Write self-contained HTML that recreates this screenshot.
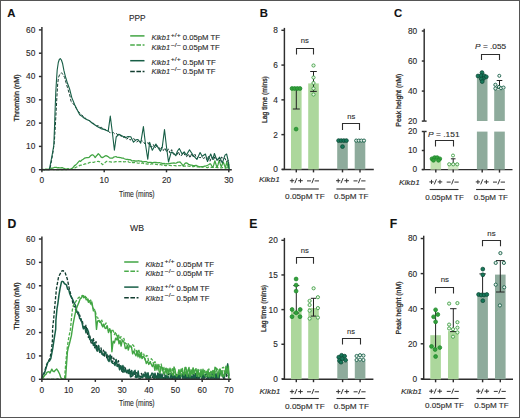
<!DOCTYPE html>
<html><head><meta charset="utf-8"><style>
html,body{margin:0;padding:0;background:#fff;}
svg{display:block;font-family:"Liberation Sans", sans-serif;}
text{stroke:#2a2a2a;stroke-width:0.12px;}
.t{stroke-width:0.3px;}
</style></head><body>
<svg width="520" height="418" viewBox="0 0 520 418">
<rect x="0" y="0" width="520" height="418" fill="#fff"/>
<g>
<polyline points="41.90,169.49 43.12,169.70 44.33,169.57 45.55,169.70 46.76,169.70 47.98,169.29 49.20,169.24 50.41,169.70 51.63,169.41 52.84,169.38 54.06,169.70 55.28,169.54 56.49,169.70 57.71,169.53 58.92,169.64 60.14,169.24 61.36,169.62 62.57,169.70 63.79,169.50 65.00,169.67 66.22,169.60 67.44,169.10 68.65,169.64 69.87,169.50 71.08,169.25 72.30,169.02 73.90,168.74 75.50,167.48 76.93,166.91 78.37,166.27 79.80,165.37 81.08,165.22 82.37,164.48 83.65,164.49 84.93,163.89 86.22,163.97 87.50,163.60 89.00,162.68 90.50,162.41 92.00,162.17 93.60,162.44 95.20,161.68 96.80,161.50 98.30,161.44 99.80,161.81 101.15,163.21 102.50,164.68 103.93,163.60 105.37,162.33 106.80,161.32 108.03,161.35 109.27,161.74 110.50,161.89 111.83,162.19 113.17,162.14 114.50,161.93 116.00,161.59 117.33,161.74 118.67,161.76 120.00,161.56 121.30,161.72 122.60,161.37 123.90,161.92 125.20,161.76 126.50,161.58 127.80,161.45 129.04,162.24 130.28,162.51 131.52,161.95 132.76,162.68 134.00,162.53 135.20,162.40 136.40,162.60 137.60,163.06 138.80,163.22 140.00,162.64 141.25,163.22 142.50,162.89 143.75,163.55 145.00,163.36 146.25,163.93 147.50,164.13 148.75,163.88 150.00,164.40 151.25,163.97 152.50,163.91 153.75,164.45 155.00,164.13 156.25,164.38 157.50,164.68 158.75,164.96 160.00,164.72 161.25,164.68 162.50,165.39 163.75,165.00 165.00,165.57 166.25,165.57 167.50,165.20 168.75,165.32 170.00,165.42 171.25,165.54 172.50,165.53 173.75,165.52 175.00,165.60 176.25,165.88 177.50,165.56 178.75,165.52 180.00,165.78 181.25,165.49 182.50,165.64 183.75,166.28 185.00,166.02 186.25,166.14 187.50,165.81 188.75,166.23 190.00,166.46 191.25,166.08 192.50,166.62 193.75,166.69 195.00,166.30 196.25,166.81 197.50,166.75 198.75,166.98 200.00,166.78 201.25,167.13 202.50,167.22 203.75,166.71 205.00,166.80 206.25,167.35 207.50,167.65 208.75,167.14 210.00,167.37 211.25,167.51 212.50,167.33 213.75,167.40 215.00,167.40 216.25,167.48 217.50,167.70 218.75,167.50 220.00,167.60 221.24,167.99 222.49,167.46 223.73,167.97 224.97,168.17 226.21,167.91 227.46,167.91 228.70,168.44" fill="none" stroke="#4aab4a" stroke-width="1.2" stroke-linejoin="round" stroke-dasharray="3.2,1.6"/>
<polyline points="41.90,169.49 43.02,169.32 44.14,169.50 45.26,169.24 46.38,169.11 47.50,169.32 48.50,169.47 49.50,169.11 50.50,168.81 51.50,168.15 52.50,168.18 53.50,167.75 54.50,167.44 55.50,167.31 56.50,167.32 57.50,167.82 58.50,167.66 59.67,167.81 60.83,167.97 62.00,167.65 63.00,167.97 64.00,168.45 65.00,168.76 66.00,169.08 67.00,169.20 68.00,168.67 69.00,169.18 70.00,169.34 71.25,168.70 72.50,167.94 73.50,167.05 74.50,165.60 75.50,165.15 76.80,163.83 78.10,162.30 79.40,160.84 80.60,161.33 81.90,160.02 83.20,159.24 84.50,158.18 85.65,157.81 86.80,157.63 87.95,157.68 89.10,157.44 90.13,156.23 91.17,155.34 92.20,154.75 93.20,155.13 94.20,156.14 95.20,157.60 96.23,156.06 97.27,154.99 98.30,153.68 99.60,154.97 100.90,156.90 102.20,157.66 103.47,157.06 104.73,156.13 106.00,155.71 107.15,156.10 108.30,156.83 109.45,157.82 110.60,158.16 111.68,158.05 112.76,158.02 113.84,157.08 114.92,156.75 116.00,156.58 117.00,157.25 118.00,157.36 119.00,157.29 120.00,157.60 121.00,157.71 122.00,158.17 123.16,158.03 124.32,158.76 125.48,159.12 126.64,159.36 127.80,159.39 128.85,159.92 129.90,159.51 130.95,160.08 132.00,160.97 133.00,160.87 134.00,160.63 135.00,161.10 136.00,160.90 137.00,161.10 138.00,160.73 139.00,160.80 140.00,161.16 141.00,161.06 142.00,161.41 143.00,162.02 144.00,161.67 145.00,161.54 146.00,161.70 147.00,161.94 148.00,162.56 149.00,162.36 150.00,162.43 151.00,162.30 152.00,163.04 153.00,162.61 154.00,162.47 155.00,162.37 156.00,162.39 157.00,162.51 158.00,162.94 159.00,162.66 160.00,162.72 161.00,163.22 162.00,163.17 163.00,163.91 164.00,163.35 165.00,163.82 166.00,163.96 167.00,163.61 168.00,164.02 169.00,163.55 170.00,163.31 171.00,163.39 172.00,163.03 173.00,163.19 174.00,162.90 175.00,163.26 176.00,163.06 177.00,162.65 178.00,162.13 179.00,162.15 180.00,161.99 181.07,163.13 182.13,164.32 183.20,166.00 184.23,164.35 185.27,163.21 186.30,162.84 187.37,163.25 188.43,164.29 189.50,164.52 190.57,165.10 191.63,165.09 192.70,165.38 193.77,165.53 194.83,165.51 195.90,165.37 196.96,165.67 198.02,166.40 199.08,166.62 200.14,166.84 201.20,166.57 202.26,166.63 203.32,166.54 204.38,166.21 205.44,166.15 206.50,165.72 207.55,165.30 208.60,164.80 209.65,163.94 210.70,163.94 211.75,166.07 212.80,167.46 213.85,164.48 214.90,160.77 215.95,164.23 217.00,167.44 218.10,164.42 219.20,160.10 220.25,163.92 221.30,166.83 222.35,164.25 223.40,162.23 224.40,165.26 225.40,167.86 226.80,161.70 228.00,167.34 228.90,164.77 229.30,169.30" fill="none" stroke="#41a543" stroke-width="1.25" stroke-linejoin="round"/>
<polyline points="41.90,169.54 43.22,169.51 44.53,169.70 45.85,169.58 47.17,169.55 48.48,169.66 49.80,169.70 51.50,160.86 53.00,152.07 54.30,142.81 55.40,124.94 56.20,109.95 57.00,95.05 57.70,83.82 58.50,77.57 59.60,74.68 61.50,72.71 63.00,74.65 64.60,77.31 66.05,82.75 67.50,87.69 68.95,92.54 70.40,97.63 71.00,101.46 71.80,102.05 73.15,103.61 74.50,105.38 77.00,109.62 78.50,111.47 80.00,113.49 81.50,115.06 83.00,115.97 84.50,117.61 86.00,118.56 87.33,119.96 88.67,120.27 90.00,121.18 91.67,122.80 93.33,123.11 95.00,124.95 96.67,125.93 98.33,125.70 100.00,127.51 101.67,127.34 103.33,129.50 105.00,129.25 106.67,130.65 108.33,130.97 110.00,132.90 111.67,132.49 113.33,132.57 115.00,134.17 116.67,133.54 118.33,135.73 120.00,134.73 121.67,137.12 123.33,137.29 125.00,136.39 126.67,139.16 128.33,137.79 130.00,140.21 131.67,138.66 133.33,138.64 135.00,139.55 136.67,142.09 138.33,140.68 140.00,142.22 141.67,140.64 143.33,141.52 145.00,144.00 146.67,143.09 148.33,142.78 150.00,146.55 151.67,146.98 153.33,144.49 155.00,148.13 156.67,145.93 158.33,146.10 160.00,150.19 161.67,147.23 163.33,150.54 165.00,147.95 166.67,152.13 168.33,148.87 170.00,153.09 171.67,149.68 173.33,154.18 175.00,154.26 176.67,155.18 178.33,151.60 180.00,155.84 181.67,155.47 183.33,152.19 185.00,155.37 186.67,156.77 188.33,153.78 190.00,157.91 191.67,153.64 193.33,156.92 195.00,154.27 196.67,158.84 198.33,156.48 200.00,158.06 201.67,156.53 203.33,158.44 205.00,157.51 206.67,159.52 208.33,156.13 210.00,161.19 211.67,157.01 213.33,160.41 215.00,156.36 216.67,159.56 218.33,158.96 220.00,161.21 221.67,157.09 223.33,158.57 225.00,158.20 226.70,161.97 228.40,159.99 229.00,166.77" fill="none" stroke="#123d30" stroke-width="1.0" stroke-linejoin="round" stroke-dasharray="3.2,1.6"/>
<polyline points="41.90,169.70 49.30,169.70 51.00,161.00 52.50,153.00 53.80,145.00 54.60,125.00 55.10,110.00 55.80,92.00 56.50,80.00 57.20,70.00 58.30,62.50 59.30,59.50 60.30,58.60 61.40,60.00 62.50,63.20 63.90,70.40 65.30,76.10 67.50,83.30 69.60,89.00 71.80,97.60 74.70,104.80 77.50,110.50 79.70,114.80 82.00,116.40 84.00,118.00 86.50,119.40 89.50,120.70 92.00,123.00 95.00,125.00 98.10,127.00 101.00,128.60 104.00,129.40 106.70,130.40 108.20,131.20 110.30,116.10 112.60,134.50 114.40,150.20 116.20,137.00 118.90,134.20 121.80,135.80 125.40,137.70 128.00,136.50 130.80,136.80 133.50,142.20 136.00,139.80 138.00,139.50 140.70,143.10 143.40,126.60 145.60,145.00 147.80,159.30 149.60,142.20 152.30,150.30 155.90,144.00 158.50,148.50 160.40,151.20 162.20,147.60 164.50,129.60 166.50,147.00 168.50,162.00 171.20,152.10 173.50,153.00 175.70,155.70 177.50,151.00 179.30,148.50 182.10,154.00 184.20,151.90 186.30,155.10 189.50,149.80 192.70,154.60 194.80,157.20 196.90,159.40 200.10,152.50 202.20,156.20 205.40,154.00 207.50,161.50 210.70,154.00 212.80,159.30 214.40,153.50 217.00,160.40 219.70,157.20 222.30,163.00 225.00,155.10 226.60,154.00 228.10,160.40 228.70,166.70 229.00,169.70" fill="none" stroke="#175e46" stroke-width="1.1" stroke-linejoin="round"/>
</g>
<g>
<polyline points="41.90,378.92 43.00,377.45 44.50,372.82 46.00,366.18 48.00,361.88 50.00,358.17 51.50,349.72 52.50,339.65 52.60,328.20 53.60,319.55 55.10,302.57 56.50,288.29 58.60,276.77 60.80,272.65 61.90,270.84 63.00,270.58 65.10,272.62 66.20,275.86 67.30,279.03 69.40,289.33 71.60,297.62 73.70,306.38 74.85,306.88 76.00,311.48 77.20,310.74 78.40,316.01 79.70,315.07 81.00,320.77 82.20,320.14 83.40,327.49 84.70,329.24 86.00,325.31 87.20,332.62 88.40,337.39 89.70,334.78 91.00,342.49 92.20,344.27 93.40,338.56 94.70,347.73 96.00,341.69 97.25,351.01 98.50,345.86 99.75,353.30 101.00,347.98 102.25,354.37 103.50,350.13 104.67,356.05 105.83,352.27 107.00,359.37 108.60,355.02 110.20,359.33 111.40,354.98 112.60,362.15 113.80,358.06 115.00,364.59 116.15,359.12 117.30,366.05 118.45,360.69 119.60,368.61 120.70,365.00 121.80,370.46 122.90,372.18 124.00,366.13 125.35,368.42 126.70,372.88 128.05,369.54 129.40,374.11 130.55,370.19 131.70,376.62 132.85,373.41 134.00,372.62 135.30,377.16 136.60,372.65 137.90,375.84 139.20,375.95 140.36,376.82 141.52,373.33 142.68,376.95 143.84,373.72 145.00,372.13 146.25,379.30 147.50,372.97 148.75,379.30 150.00,375.97 151.11,378.71 152.22,378.28 153.33,374.97 154.44,379.30 155.56,373.79 156.67,379.30 157.78,373.24 158.89,379.30 160.00,373.61 161.11,376.53 162.22,379.30 163.33,379.30 164.44,373.22 165.56,378.30 166.67,377.12 167.78,378.42 168.89,373.52 170.00,373.71 171.11,379.30 172.22,379.30 173.33,373.86 174.44,379.30 175.56,379.30 176.67,373.79 177.78,377.59 178.89,375.79 180.00,379.30 181.11,373.55 182.22,375.06 183.33,373.78 184.44,379.11 185.56,373.27 186.67,378.73 187.78,374.69 188.89,379.30 190.00,373.42 191.11,378.12 192.22,375.27 193.33,374.47 194.44,379.30 195.56,373.53 196.67,379.30 197.78,377.36 198.89,378.16 200.00,378.19 201.11,374.26 202.22,375.24 203.33,379.30 204.44,374.07 205.56,379.30 206.67,378.90 207.78,376.26 208.89,379.20 210.00,379.30 211.11,372.59 212.22,372.87 213.33,373.30 214.44,379.30 215.56,374.91 216.67,379.30 217.78,375.97 218.89,379.30 220.00,372.82 221.21,374.05 222.43,373.37 223.64,378.23 224.86,378.14 226.07,377.49 227.29,371.09 228.50,377.22 229.00,376.67" fill="none" stroke="#123d30" stroke-width="1.35" stroke-linejoin="round" stroke-dasharray="3.2,1.6"/>
<polyline points="41.90,378.83 43.00,374.57 44.90,371.77 46.50,366.45 47.80,362.24 49.50,361.00 50.80,358.59 52.70,348.71 54.20,338.52 55.70,329.24 55.90,320.45 57.00,308.56 57.90,303.28 59.00,294.80 60.10,288.38 61.50,281.86 62.20,281.37 63.30,281.73 64.40,283.71 65.45,284.18 66.50,284.98 67.60,289.15 68.70,289.39 69.75,293.72 70.80,296.27 72.25,298.57 73.70,302.13 75.50,305.49 76.95,312.26 78.40,312.17 79.70,318.64 81.00,318.81 82.20,323.62 83.40,328.78 84.70,326.43 86.00,332.84 87.20,328.71 88.40,331.70 89.70,339.33 91.00,340.65 92.20,339.69 93.40,345.47 94.70,342.59 96.00,348.36 97.25,350.89 98.50,345.49 99.75,352.25 101.00,350.71 102.25,354.25 103.50,355.36 104.67,351.68 105.83,353.80 107.00,354.41 108.07,360.16 109.13,361.42 110.20,354.98 111.40,361.80 112.60,363.35 113.80,363.42 115.00,365.48 116.15,359.50 117.30,366.47 118.45,364.64 119.60,369.75 120.70,365.74 121.80,371.00 122.90,365.58 124.00,372.09 125.08,369.50 126.16,372.09 127.24,370.40 128.32,373.46 129.40,369.37 130.55,376.88 131.70,370.46 132.85,375.86 134.00,371.52 135.04,370.41 136.08,377.61 137.12,377.34 138.16,371.00 139.20,379.14 140.36,378.98 141.52,376.24 142.68,377.73 143.84,374.07 145.00,376.60 146.00,373.06 147.00,379.30 148.00,372.68 149.00,379.30 150.00,376.98 151.00,375.52 152.00,373.11 153.00,373.39 154.00,379.30 155.00,373.24 156.00,378.34 157.00,379.30 158.00,373.29 159.00,379.30 160.00,373.60 161.00,379.30 162.00,373.93 163.00,379.30 164.00,379.30 165.00,377.14 166.00,375.00 167.00,379.30 168.00,376.04 169.00,379.11 170.00,379.08 171.00,373.65 172.00,377.74 173.00,374.12 174.00,379.30 175.00,375.77 176.00,379.30 177.00,375.87 178.00,379.30 179.00,374.10 180.00,379.30 181.00,374.42 182.00,375.15 183.00,379.30 184.00,373.23 185.00,379.30 186.00,375.87 187.00,379.30 188.00,373.94 189.00,379.30 190.00,373.41 191.00,379.30 192.00,375.88 193.00,379.30 194.00,374.58 195.00,379.30 196.00,374.68 197.00,373.87 198.00,379.30 199.00,378.88 200.00,374.67 201.00,375.28 202.00,379.30 203.00,372.75 204.00,378.66 205.00,375.59 206.00,374.14 207.00,373.02 208.00,379.30 209.00,378.05 210.00,375.11 211.00,379.30 212.00,373.70 213.00,379.30 214.00,372.61 215.00,379.30 216.00,373.41 217.00,379.30 218.00,373.61 219.00,378.21 220.00,372.84 221.00,373.44 222.00,373.03 223.00,376.92 224.00,377.53 225.00,373.06 226.00,373.22 227.70,363.88 228.60,372.86 229.00,375.76" fill="none" stroke="#175e46" stroke-width="1.5" stroke-linejoin="round"/>
<polyline points="41.90,378.97 43.03,379.01 44.16,379.30 45.29,378.99 46.42,379.30 47.55,379.08 48.68,379.30 49.81,379.25 50.94,378.81 52.07,379.30 53.20,379.27 54.33,379.30 55.46,379.11 56.59,379.30 57.72,378.86 58.85,379.30 59.98,378.93 61.11,379.30 62.24,379.30 63.37,379.30 64.50,379.12 66.00,360.08 67.50,345.36 69.00,336.26 70.40,329.85 71.50,317.83 72.40,309.51 74.00,303.74 75.30,302.36 76.40,300.70 77.50,298.77 78.75,297.42 80.00,297.07 81.17,296.21 82.33,295.57 83.50,296.04 84.75,295.08 86.00,297.84 87.20,297.31 88.40,300.17 89.53,302.22 90.67,300.05 91.80,304.08 93.40,308.65 95.10,310.08 96.23,315.60 97.37,317.94 98.50,318.35 100.15,322.56 101.80,320.10 103.20,325.06 104.60,326.27 106.00,322.89 107.25,327.76 108.50,330.91 109.75,328.71 111.00,333.87 112.13,329.11 113.27,330.89 114.40,334.61 115.70,331.83 117.00,337.85 118.33,334.05 119.67,339.11 121.00,336.62 122.43,341.07 123.87,338.32 125.30,343.23 126.55,343.99 127.80,342.80 129.05,345.42 130.30,344.51 131.48,347.48 132.65,344.73 133.82,346.01 135.00,351.06 136.25,349.71 137.50,353.81 138.75,349.08 140.00,355.19 141.28,351.59 142.55,358.00 143.82,354.04 145.10,359.79 146.32,355.53 147.55,355.93 148.78,361.93 150.00,363.22 151.25,358.73 152.50,360.07 153.75,364.83 155.00,361.56 156.25,367.23 157.50,368.61 158.75,363.92 160.00,369.17 161.25,364.03 162.50,372.02 163.75,366.76 165.00,372.36 166.25,368.24 167.50,375.47 168.75,371.12 170.00,375.16 171.11,370.19 172.22,368.07 173.33,376.16 174.44,368.20 175.56,374.55 176.67,376.47 177.78,374.50 178.89,369.98 180.00,375.14 181.11,376.48 182.22,367.57 183.33,373.58 184.44,370.25 185.56,374.79 186.67,369.27 187.78,376.45 188.89,374.96 190.00,371.77 191.11,371.73 192.22,375.53 193.33,368.26 194.44,373.56 195.56,372.06 196.67,370.71 197.78,373.08 198.89,369.83 200.00,376.17 201.11,377.28 202.22,371.09 203.33,374.10 204.44,369.85 205.56,374.15 206.67,370.45 207.78,375.79 208.89,368.83 210.00,376.88 211.11,373.63 212.22,376.53 213.33,369.91 214.44,377.12 215.56,369.34 216.67,368.44 217.78,369.69 218.89,374.03 220.00,368.23 221.21,376.08 222.43,367.68 223.64,367.29 224.86,375.96 226.07,367.26 227.29,369.33 228.50,374.21 229.00,375.31" fill="none" stroke="#4aab4a" stroke-width="1.3" stroke-linejoin="round" stroke-dasharray="3.2,1.6"/>
<polyline points="41.90,378.93 43.50,377.13 44.70,375.25 45.90,374.43 46.95,372.40 48.00,371.87 49.00,371.72 50.00,372.97 51.80,369.17 52.90,371.18 54.00,371.73 55.35,370.27 56.70,369.07 58.00,370.91 59.60,374.02 60.60,377.02 61.60,378.78 63.50,379.30 64.50,379.24 65.50,379.30 66.50,364.73 67.50,351.30 68.50,346.96 69.50,343.49 71.40,335.68 73.00,324.75 74.30,317.98 76.00,309.82 77.30,306.21 79.20,301.61 80.20,298.71 81.20,298.18 82.70,295.38 83.90,297.82 85.10,296.56 86.20,299.86 87.30,299.06 88.40,302.26 89.53,300.83 90.67,303.99 91.80,301.95 93.40,310.85 95.10,310.89 96.50,329.42 97.50,321.02 98.50,320.57 99.60,322.01 100.70,321.44 101.80,325.13 102.85,326.92 103.90,324.10 104.95,328.05 106.00,328.49 107.25,325.93 108.50,332.65 109.75,328.63 111.00,332.65 111.90,351.79 113.15,341.23 114.40,342.94 115.65,338.29 116.90,339.91 117.95,337.02 119.00,343.82 120.05,340.49 121.10,346.15 122.15,340.98 123.20,340.74 124.25,342.83 125.30,348.46 126.30,348.46 127.30,345.29 128.30,350.10 129.30,345.98 130.30,346.60 131.48,347.07 132.65,353.88 133.82,351.08 135.00,354.00 136.00,355.82 137.00,351.46 138.00,356.79 139.00,353.53 140.00,357.81 141.02,354.35 142.04,358.55 143.06,356.24 144.08,357.30 145.10,359.12 146.32,363.53 147.55,361.13 148.78,364.43 150.00,361.94 151.22,364.18 152.45,366.58 153.68,363.83 154.90,370.32 155.92,364.10 156.94,369.97 157.96,364.43 158.98,370.98 160.00,372.78 161.18,366.55 162.35,367.44 163.52,373.66 164.70,373.72 165.76,368.47 166.82,373.18 167.88,368.69 168.94,372.58 170.00,368.10 171.00,372.15 172.00,373.76 173.00,375.28 174.00,366.97 175.00,369.40 176.00,375.61 177.00,375.52 178.00,374.70 179.00,369.91 180.00,374.64 181.00,369.26 182.00,370.50 183.00,374.00 184.00,375.30 185.00,367.42 186.00,367.47 187.00,376.19 188.00,370.70 189.00,367.42 190.00,376.75 191.00,369.77 192.00,373.61 193.00,368.03 194.00,373.83 195.00,369.95 196.00,368.63 197.00,376.34 198.00,369.43 199.00,376.30 200.00,375.72 201.00,369.45 202.00,375.18 203.00,369.22 204.00,374.63 205.00,375.66 206.00,376.51 207.00,376.48 208.00,369.73 209.00,376.77 210.00,373.74 211.00,371.35 212.00,373.10 213.00,370.38 214.00,376.29 215.00,367.18 216.00,367.96 217.00,371.72 218.00,377.03 219.00,370.33 220.00,369.15 221.00,374.15 222.00,370.72 223.00,376.53 224.00,375.65 225.00,373.72 226.00,366.08 227.20,373.43 228.40,366.15 229.00,379.30" fill="none" stroke="#41a543" stroke-width="1.4" stroke-linejoin="round"/>
</g>
<text x="7.20" y="16.90" font-size="11.3" font-weight="bold" fill="#111">A</text>
<text x="129.00" y="21.20" font-size="8.3" fill="#2a2a2a">PPP</text>
<line x1="41.90" y1="27.00" x2="41.90" y2="170.20" stroke="#2e2e2e" stroke-width="1.45"/>
<line x1="38.90" y1="169.70" x2="41.90" y2="169.70" stroke="#2e2e2e" stroke-width="1.45"/>
<text x="35.30" y="172.60" font-size="8.3" text-anchor="end" fill="#2a2a2a">0</text>
<line x1="38.90" y1="146.40" x2="41.90" y2="146.40" stroke="#2e2e2e" stroke-width="1.45"/>
<text x="35.30" y="149.30" font-size="8.3" text-anchor="end" fill="#2a2a2a">10</text>
<line x1="38.90" y1="123.10" x2="41.90" y2="123.10" stroke="#2e2e2e" stroke-width="1.45"/>
<text x="35.30" y="126.00" font-size="8.3" text-anchor="end" fill="#2a2a2a">20</text>
<line x1="38.90" y1="99.80" x2="41.90" y2="99.80" stroke="#2e2e2e" stroke-width="1.45"/>
<text x="35.30" y="102.70" font-size="8.3" text-anchor="end" fill="#2a2a2a">30</text>
<line x1="38.90" y1="76.50" x2="41.90" y2="76.50" stroke="#2e2e2e" stroke-width="1.45"/>
<text x="35.30" y="79.40" font-size="8.3" text-anchor="end" fill="#2a2a2a">40</text>
<line x1="38.90" y1="53.20" x2="41.90" y2="53.20" stroke="#2e2e2e" stroke-width="1.45"/>
<text x="35.30" y="56.10" font-size="8.3" text-anchor="end" fill="#2a2a2a">50</text>
<line x1="38.90" y1="29.90" x2="41.90" y2="29.90" stroke="#2e2e2e" stroke-width="1.45"/>
<text x="35.30" y="32.80" font-size="8.3" text-anchor="end" fill="#2a2a2a">60</text>
<line x1="41.40" y1="169.70" x2="231.80" y2="169.70" stroke="#2e2e2e" stroke-width="1.45"/>
<line x1="41.90" y1="169.70" x2="41.90" y2="172.30" stroke="#2e2e2e" stroke-width="1.45"/>
<text x="41.90" y="183.40" font-size="8.3" text-anchor="middle" fill="#2a2a2a">0</text>
<line x1="104.20" y1="169.70" x2="104.20" y2="172.30" stroke="#2e2e2e" stroke-width="1.45"/>
<text x="104.20" y="183.40" font-size="8.3" text-anchor="middle" fill="#2a2a2a">10</text>
<line x1="166.50" y1="169.70" x2="166.50" y2="172.30" stroke="#2e2e2e" stroke-width="1.45"/>
<text x="166.50" y="183.40" font-size="8.3" text-anchor="middle" fill="#2a2a2a">20</text>
<line x1="228.80" y1="169.70" x2="228.80" y2="172.30" stroke="#2e2e2e" stroke-width="1.45"/>
<text x="228.80" y="183.40" font-size="8.3" text-anchor="middle" fill="#2a2a2a">30</text>
<text x="136.80" y="196.80" font-size="8.8" text-anchor="middle" textLength="35.6" lengthAdjust="spacingAndGlyphs" fill="#2a2a2a">Time (mins)</text>
<text class="t" transform="translate(18.90,97.90) rotate(-90)" font-size="8.1" text-anchor="middle" textLength="47" lengthAdjust="spacingAndGlyphs" fill="#2a2a2a" x="0" y="0">Thrombin (nM)</text>
<polyline points="130.20,35.90 144.50,35.90" fill="none" stroke="#41a543" stroke-width="1.5" stroke-linejoin="round"/>
<text x="151.50" y="40.20" font-size="7.5" font-style="italic" textLength="18.6" lengthAdjust="spacingAndGlyphs" fill="#2a2a2a">Klkb1</text>
<text x="170.70" y="37.00" font-size="5.6" textLength="10.0" lengthAdjust="spacingAndGlyphs" fill="#2a2a2a">+/+</text>
<text x="182.70" y="40.20" font-size="7.5" textLength="37.3" lengthAdjust="spacingAndGlyphs" fill="#2a2a2a">0.05pM TF</text>
<polyline points="130.20,45.00 144.50,45.00" fill="none" stroke="#4aab4a" stroke-width="1.5" stroke-linejoin="round" stroke-dasharray="4.6,1.6"/>
<text x="151.50" y="49.80" font-size="7.5" font-style="italic" textLength="18.6" lengthAdjust="spacingAndGlyphs" fill="#2a2a2a">Klkb1</text>
<text x="170.70" y="46.60" font-size="5.6" textLength="10.0" lengthAdjust="spacingAndGlyphs" fill="#2a2a2a">−/−</text>
<text x="182.70" y="49.80" font-size="7.5" textLength="37.1" lengthAdjust="spacingAndGlyphs" fill="#2a2a2a">0.05pM TF</text>
<polyline points="130.20,60.70 144.50,60.70" fill="none" stroke="#175e46" stroke-width="1.5" stroke-linejoin="round"/>
<text x="151.50" y="64.50" font-size="7.5" font-style="italic" textLength="18.6" lengthAdjust="spacingAndGlyphs" fill="#2a2a2a">Klkb1</text>
<text x="170.70" y="61.30" font-size="5.6" textLength="10.0" lengthAdjust="spacingAndGlyphs" fill="#2a2a2a">+/+</text>
<text x="182.70" y="64.50" font-size="7.5" textLength="33.0" lengthAdjust="spacingAndGlyphs" fill="#2a2a2a">0.5pM TF</text>
<polyline points="130.20,71.60 144.50,71.60" fill="none" stroke="#123d30" stroke-width="1.5" stroke-linejoin="round" stroke-dasharray="4.6,1.6"/>
<text x="151.50" y="74.30" font-size="7.5" font-style="italic" textLength="18.6" lengthAdjust="spacingAndGlyphs" fill="#2a2a2a">Klkb1</text>
<text x="170.70" y="71.10" font-size="5.6" textLength="10.0" lengthAdjust="spacingAndGlyphs" fill="#2a2a2a">−/−</text>
<text x="182.70" y="74.30" font-size="7.5" textLength="32.8" lengthAdjust="spacingAndGlyphs" fill="#2a2a2a">0.5pM TF</text>
<text x="259.80" y="17.00" font-size="11.3" font-weight="bold" fill="#111">B</text>
<line x1="284.40" y1="27.90" x2="284.40" y2="169.90" stroke="#2e2e2e" stroke-width="1.45"/>
<line x1="281.40" y1="169.40" x2="284.40" y2="169.40" stroke="#2e2e2e" stroke-width="1.45"/>
<text x="277.80" y="172.30" font-size="8.3" text-anchor="end" fill="#2a2a2a">0</text>
<line x1="281.40" y1="134.62" x2="284.40" y2="134.62" stroke="#2e2e2e" stroke-width="1.45"/>
<text x="277.80" y="137.53" font-size="8.3" text-anchor="end" fill="#2a2a2a">2</text>
<line x1="281.40" y1="99.85" x2="284.40" y2="99.85" stroke="#2e2e2e" stroke-width="1.45"/>
<text x="277.80" y="102.75" font-size="8.3" text-anchor="end" fill="#2a2a2a">4</text>
<line x1="281.40" y1="65.08" x2="284.40" y2="65.08" stroke="#2e2e2e" stroke-width="1.45"/>
<text x="277.80" y="67.98" font-size="8.3" text-anchor="end" fill="#2a2a2a">6</text>
<line x1="281.40" y1="30.30" x2="284.40" y2="30.30" stroke="#2e2e2e" stroke-width="1.45"/>
<text x="277.80" y="33.20" font-size="8.3" text-anchor="end" fill="#2a2a2a">8</text>
<line x1="282.00" y1="169.40" x2="373.80" y2="169.40" stroke="#2e2e2e" stroke-width="1.45"/>
<text class="t" transform="translate(267.00,99.60) rotate(-90)" font-size="8.1" text-anchor="middle" textLength="47" lengthAdjust="spacingAndGlyphs" fill="#2a2a2a" x="0" y="0">Lag time (mins)</text>
<rect x="291.00" y="88.00" width="10.60" height="81.40" fill="#acd79c"/>
<rect x="308.20" y="83.40" width="10.60" height="86.00" fill="#acd79c"/>
<rect x="337.20" y="140.20" width="10.60" height="29.20" fill="#8eab9c"/>
<rect x="354.70" y="140.40" width="10.60" height="29.00" fill="#8eab9c"/>
<line x1="296.30" y1="88.40" x2="296.30" y2="109.00" stroke="#222" stroke-width="1.0"/>
<line x1="292.80" y1="88.40" x2="299.80" y2="88.40" stroke="#222" stroke-width="1.0"/>
<line x1="292.80" y1="109.00" x2="299.80" y2="109.00" stroke="#222" stroke-width="1.0"/>
<line x1="313.50" y1="71.50" x2="313.50" y2="91.40" stroke="#222" stroke-width="1.0"/>
<line x1="310.20" y1="71.50" x2="316.80" y2="71.50" stroke="#222" stroke-width="1.0"/>
<line x1="310.20" y1="91.40" x2="316.80" y2="91.40" stroke="#222" stroke-width="1.0"/>
<circle cx="292.00" cy="88.50" r="1.90" fill="#33a03c" stroke="#218a2c" stroke-width="0.8"/>
<circle cx="294.60" cy="88.50" r="1.90" fill="#33a03c" stroke="#218a2c" stroke-width="0.8"/>
<circle cx="297.40" cy="88.50" r="1.90" fill="#33a03c" stroke="#218a2c" stroke-width="0.8"/>
<circle cx="300.00" cy="88.50" r="1.90" fill="#33a03c" stroke="#218a2c" stroke-width="0.8"/>
<circle cx="296.10" cy="129.10" r="1.90" fill="#33a03c" stroke="#218a2c" stroke-width="0.8"/>
<circle cx="313.50" cy="65.50" r="1.60" fill="#eef7ea" stroke="#3f9f45" stroke-width="0.9"/>
<circle cx="313.50" cy="77.50" r="1.60" fill="#eef7ea" stroke="#3f9f45" stroke-width="0.9"/>
<circle cx="313.50" cy="83.00" r="1.60" fill="#eef7ea" stroke="#3f9f45" stroke-width="0.9"/>
<circle cx="313.50" cy="88.50" r="1.60" fill="#eef7ea" stroke="#3f9f45" stroke-width="0.9"/>
<circle cx="313.50" cy="94.50" r="1.60" fill="#eef7ea" stroke="#3f9f45" stroke-width="0.9"/>
<circle cx="338.60" cy="140.60" r="1.90" fill="#17785a" stroke="#0c4a36" stroke-width="0.8"/>
<circle cx="341.20" cy="140.60" r="1.90" fill="#17785a" stroke="#0c4a36" stroke-width="0.8"/>
<circle cx="343.80" cy="140.60" r="1.90" fill="#17785a" stroke="#0c4a36" stroke-width="0.8"/>
<circle cx="346.40" cy="140.60" r="1.90" fill="#17785a" stroke="#0c4a36" stroke-width="0.8"/>
<circle cx="342.50" cy="146.60" r="1.90" fill="#17785a" stroke="#0c4a36" stroke-width="0.8"/>
<circle cx="356.20" cy="140.60" r="1.60" fill="#e6f0ea" stroke="#145c45" stroke-width="0.9"/>
<circle cx="358.80" cy="140.60" r="1.60" fill="#e6f0ea" stroke="#145c45" stroke-width="0.9"/>
<circle cx="361.40" cy="140.60" r="1.60" fill="#e6f0ea" stroke="#145c45" stroke-width="0.9"/>
<circle cx="364.00" cy="140.60" r="1.60" fill="#e6f0ea" stroke="#145c45" stroke-width="0.9"/>
<polyline points="296.50,54.40 296.50,48.50 313.50,48.50 313.50,54.40" fill="none" stroke="#2e2e2e" stroke-width="1.1"/>
<text x="304.85" y="42.80" font-size="8.1" text-anchor="middle" textLength="8.100000000000033" lengthAdjust="spacingAndGlyphs" fill="#2a2a2a">ns</text>
<polyline points="342.50,130.10 342.50,123.50 359.50,123.50 359.50,130.10" fill="none" stroke="#2e2e2e" stroke-width="1.1"/>
<text x="351.20" y="118.50" font-size="8.1" text-anchor="middle" textLength="8.00000000000001" lengthAdjust="spacingAndGlyphs" fill="#2a2a2a">ns</text>
<line x1="296.30" y1="169.40" x2="296.30" y2="172.40" stroke="#2e2e2e" stroke-width="1.45"/>
<line x1="313.50" y1="169.40" x2="313.50" y2="172.40" stroke="#2e2e2e" stroke-width="1.45"/>
<line x1="342.50" y1="169.40" x2="342.50" y2="172.40" stroke="#2e2e2e" stroke-width="1.45"/>
<line x1="360.00" y1="169.40" x2="360.00" y2="172.40" stroke="#2e2e2e" stroke-width="1.45"/>
<text x="258.90" y="182.20" font-size="7.8" font-style="italic" textLength="21.0" lengthAdjust="spacingAndGlyphs" fill="#2a2a2a">Klkb1</text>
<line x1="289.85" y1="180.70" x2="294.15" y2="180.70" stroke="#333" stroke-width="1.0"/>
<line x1="292.00" y1="178.65" x2="292.00" y2="182.75" stroke="#333" stroke-width="1.0"/>
<line x1="294.80" y1="183.20" x2="296.90" y2="178.10" stroke="#333" stroke-width="0.95"/>
<line x1="298.20" y1="180.70" x2="302.75" y2="180.70" stroke="#333" stroke-width="1.0"/>
<line x1="300.48" y1="178.65" x2="300.48" y2="182.75" stroke="#333" stroke-width="1.0"/>
<line x1="307.00" y1="180.90" x2="311.00" y2="180.90" stroke="#333" stroke-width="1.0"/>
<line x1="311.90" y1="183.20" x2="313.90" y2="178.10" stroke="#333" stroke-width="0.95"/>
<line x1="314.70" y1="180.90" x2="319.00" y2="180.90" stroke="#333" stroke-width="1.0"/>
<line x1="290.20" y1="189.00" x2="318.80" y2="189.00" stroke="#2e2e2e" stroke-width="1.1"/>
<text x="304.90" y="199.40" font-size="8" text-anchor="middle" textLength="39.6" lengthAdjust="spacingAndGlyphs" fill="#2a2a2a">0.05pM TF</text>
<line x1="336.05" y1="180.70" x2="340.35" y2="180.70" stroke="#333" stroke-width="1.0"/>
<line x1="338.20" y1="178.65" x2="338.20" y2="182.75" stroke="#333" stroke-width="1.0"/>
<line x1="341.00" y1="183.20" x2="343.10" y2="178.10" stroke="#333" stroke-width="0.95"/>
<line x1="344.40" y1="180.70" x2="348.95" y2="180.70" stroke="#333" stroke-width="1.0"/>
<line x1="346.67" y1="178.65" x2="346.67" y2="182.75" stroke="#333" stroke-width="1.0"/>
<line x1="353.50" y1="180.90" x2="357.50" y2="180.90" stroke="#333" stroke-width="1.0"/>
<line x1="358.40" y1="183.20" x2="360.40" y2="178.10" stroke="#333" stroke-width="0.95"/>
<line x1="361.20" y1="180.90" x2="365.50" y2="180.90" stroke="#333" stroke-width="1.0"/>
<line x1="336.40" y1="189.00" x2="365.30" y2="189.00" stroke="#2e2e2e" stroke-width="1.1"/>
<text x="351.25" y="199.40" font-size="8" text-anchor="middle" textLength="34.6" lengthAdjust="spacingAndGlyphs" fill="#2a2a2a">0.5pM TF</text>
<text x="394.00" y="17.10" font-size="11.3" font-weight="bold" fill="#111">C</text>
<line x1="424.20" y1="28.80" x2="424.20" y2="121.10" stroke="#2e2e2e" stroke-width="1.45"/>
<line x1="421.80" y1="31.00" x2="424.20" y2="31.00" stroke="#2e2e2e" stroke-width="1.45"/>
<text x="417.20" y="33.90" font-size="8.3" text-anchor="end" fill="#2a2a2a">80</text>
<line x1="421.80" y1="61.03" x2="424.20" y2="61.03" stroke="#2e2e2e" stroke-width="1.45"/>
<text x="417.20" y="63.93" font-size="8.3" text-anchor="end" fill="#2a2a2a">60</text>
<line x1="421.80" y1="91.07" x2="424.20" y2="91.07" stroke="#2e2e2e" stroke-width="1.45"/>
<text x="417.20" y="93.97" font-size="8.3" text-anchor="end" fill="#2a2a2a">40</text>
<line x1="421.80" y1="121.10" x2="424.20" y2="121.10" stroke="#2e2e2e" stroke-width="1.45"/>
<text x="417.20" y="124.00" font-size="8.3" text-anchor="end" fill="#2a2a2a">20</text>
<line x1="424.20" y1="121.10" x2="426.60" y2="121.10" stroke="#2e2e2e" stroke-width="1.45"/>
<line x1="424.20" y1="131.50" x2="424.20" y2="170.00" stroke="#2e2e2e" stroke-width="1.45"/>
<line x1="421.80" y1="131.50" x2="424.20" y2="131.50" stroke="#2e2e2e" stroke-width="1.45"/>
<text x="417.20" y="134.40" font-size="8.3" text-anchor="end" fill="#2a2a2a">20</text>
<line x1="421.80" y1="150.50" x2="424.20" y2="150.50" stroke="#2e2e2e" stroke-width="1.45"/>
<text x="417.20" y="153.40" font-size="8.3" text-anchor="end" fill="#2a2a2a">10</text>
<line x1="421.80" y1="169.50" x2="424.20" y2="169.50" stroke="#2e2e2e" stroke-width="1.45"/>
<text x="417.20" y="172.40" font-size="8.3" text-anchor="end" fill="#2a2a2a">0</text>
<line x1="424.20" y1="131.50" x2="426.60" y2="131.50" stroke="#2e2e2e" stroke-width="1.45"/>
<line x1="421.80" y1="169.60" x2="512.50" y2="169.60" stroke="#2e2e2e" stroke-width="1.45"/>
<text class="t" transform="translate(401.40,100.20) rotate(-90)" font-size="8.1" text-anchor="middle" textLength="53" lengthAdjust="spacingAndGlyphs" fill="#2a2a2a" x="0" y="0">Peak height (nM)</text>
<rect x="430.50" y="158.60" width="10.60" height="11.00" fill="#c0e2b0"/>
<rect x="447.90" y="163.00" width="10.60" height="6.60" fill="#d3ebc7"/>
<rect x="476.90" y="77.00" width="10.60" height="44.00" fill="#8eab9c"/>
<rect x="476.90" y="131.60" width="10.60" height="38.00" fill="#8eab9c"/>
<rect x="494.20" y="89.60" width="10.60" height="31.40" fill="#8eab9c"/>
<rect x="494.20" y="131.60" width="10.60" height="38.00" fill="#8eab9c"/>
<circle cx="432.00" cy="158.80" r="1.90" fill="#33a03c" stroke="#218a2c" stroke-width="0.8"/>
<circle cx="434.60" cy="157.60" r="1.90" fill="#33a03c" stroke="#218a2c" stroke-width="0.8"/>
<circle cx="437.20" cy="157.60" r="1.90" fill="#33a03c" stroke="#218a2c" stroke-width="0.8"/>
<circle cx="439.80" cy="158.80" r="1.90" fill="#33a03c" stroke="#218a2c" stroke-width="0.8"/>
<circle cx="433.50" cy="160.30" r="1.90" fill="#33a03c" stroke="#218a2c" stroke-width="0.8"/>
<circle cx="438.50" cy="160.30" r="1.90" fill="#33a03c" stroke="#218a2c" stroke-width="0.8"/>
<line x1="453.20" y1="158.80" x2="453.20" y2="164.30" stroke="#222" stroke-width="1.0"/>
<line x1="450.90" y1="158.80" x2="455.50" y2="158.80" stroke="#222" stroke-width="1.0"/>
<line x1="450.90" y1="164.30" x2="455.50" y2="164.30" stroke="#222" stroke-width="1.0"/>
<circle cx="453.00" cy="155.50" r="1.50" fill="#ffffff" stroke="#3f9f45" stroke-width="0.9"/>
<circle cx="449.20" cy="164.30" r="1.60" fill="#eef7ea" stroke="#3f9f45" stroke-width="0.9"/>
<circle cx="453.20" cy="164.30" r="1.60" fill="#eef7ea" stroke="#3f9f45" stroke-width="0.9"/>
<circle cx="457.20" cy="164.30" r="1.60" fill="#eef7ea" stroke="#3f9f45" stroke-width="0.9"/>
<circle cx="482.00" cy="72.60" r="1.90" fill="#17785a" stroke="#0c4a36" stroke-width="0.8"/>
<circle cx="478.00" cy="76.00" r="1.90" fill="#17785a" stroke="#0c4a36" stroke-width="0.8"/>
<circle cx="481.20" cy="75.60" r="1.90" fill="#17785a" stroke="#0c4a36" stroke-width="0.8"/>
<circle cx="484.20" cy="75.80" r="1.90" fill="#17785a" stroke="#0c4a36" stroke-width="0.8"/>
<circle cx="486.30" cy="76.80" r="1.90" fill="#17785a" stroke="#0c4a36" stroke-width="0.8"/>
<circle cx="483.40" cy="78.60" r="1.90" fill="#17785a" stroke="#0c4a36" stroke-width="0.8"/>
<circle cx="481.30" cy="79.00" r="1.90" fill="#17785a" stroke="#0c4a36" stroke-width="0.8"/>
<circle cx="482.20" cy="81.60" r="1.90" fill="#17785a" stroke="#0c4a36" stroke-width="0.8"/>
<line x1="499.50" y1="80.50" x2="499.50" y2="88.00" stroke="#222" stroke-width="1.0"/>
<line x1="496.70" y1="80.50" x2="502.30" y2="80.50" stroke="#222" stroke-width="1.0"/>
<line x1="496.70" y1="88.00" x2="502.30" y2="88.00" stroke="#222" stroke-width="1.0"/>
<circle cx="499.30" cy="75.80" r="1.50" fill="#ffffff" stroke="#145c45" stroke-width="0.9"/>
<circle cx="495.40" cy="84.80" r="1.60" fill="#e6f0ea" stroke="#145c45" stroke-width="0.9"/>
<circle cx="495.40" cy="88.50" r="1.60" fill="#e6f0ea" stroke="#145c45" stroke-width="0.9"/>
<circle cx="499.00" cy="87.00" r="1.60" fill="#e6f0ea" stroke="#145c45" stroke-width="0.9"/>
<circle cx="501.00" cy="88.20" r="1.60" fill="#e6f0ea" stroke="#145c45" stroke-width="0.9"/>
<circle cx="503.50" cy="87.60" r="1.60" fill="#e6f0ea" stroke="#145c45" stroke-width="0.9"/>
<polyline points="435.50,146.60 435.50,140.50 453.50,140.50 453.50,146.60" fill="none" stroke="#2e2e2e" stroke-width="1.1"/>
<text x="428.00" y="136.60" font-size="7.6" textLength="31.60" lengthAdjust="spacingAndGlyphs" fill="#2a2a2a"><tspan font-style="italic">P</tspan> = .151</text>
<polyline points="481.50,60.10 481.50,54.50 499.50,54.50 499.50,60.10" fill="none" stroke="#2e2e2e" stroke-width="1.1"/>
<text x="475.10" y="48.90" font-size="7.6" textLength="31.10" lengthAdjust="spacingAndGlyphs" fill="#2a2a2a"><tspan font-style="italic">P</tspan> = .055</text>
<line x1="435.80" y1="169.60" x2="435.80" y2="172.60" stroke="#2e2e2e" stroke-width="1.45"/>
<line x1="453.20" y1="169.60" x2="453.20" y2="172.60" stroke="#2e2e2e" stroke-width="1.45"/>
<line x1="482.20" y1="169.60" x2="482.20" y2="172.60" stroke="#2e2e2e" stroke-width="1.45"/>
<line x1="499.50" y1="169.60" x2="499.50" y2="172.60" stroke="#2e2e2e" stroke-width="1.45"/>
<text x="398.90" y="185.10" font-size="7.8" font-style="italic" textLength="21.0" lengthAdjust="spacingAndGlyphs" fill="#2a2a2a">Klkb1</text>
<line x1="429.35" y1="181.90" x2="433.65" y2="181.90" stroke="#333" stroke-width="1.0"/>
<line x1="431.50" y1="179.85" x2="431.50" y2="183.95" stroke="#333" stroke-width="1.0"/>
<line x1="434.30" y1="184.40" x2="436.40" y2="179.30" stroke="#333" stroke-width="0.95"/>
<line x1="437.70" y1="181.90" x2="442.25" y2="181.90" stroke="#333" stroke-width="1.0"/>
<line x1="439.98" y1="179.85" x2="439.98" y2="183.95" stroke="#333" stroke-width="1.0"/>
<line x1="446.70" y1="182.10" x2="450.70" y2="182.10" stroke="#333" stroke-width="1.0"/>
<line x1="451.60" y1="184.40" x2="453.60" y2="179.30" stroke="#333" stroke-width="0.95"/>
<line x1="454.40" y1="182.10" x2="458.70" y2="182.10" stroke="#333" stroke-width="1.0"/>
<line x1="429.70" y1="189.50" x2="458.50" y2="189.50" stroke="#2e2e2e" stroke-width="1.1"/>
<text x="444.50" y="200.00" font-size="8" text-anchor="middle" textLength="38.6" lengthAdjust="spacingAndGlyphs" fill="#2a2a2a">0.05pM TF</text>
<line x1="475.75" y1="181.90" x2="480.05" y2="181.90" stroke="#333" stroke-width="1.0"/>
<line x1="477.90" y1="179.85" x2="477.90" y2="183.95" stroke="#333" stroke-width="1.0"/>
<line x1="480.70" y1="184.40" x2="482.80" y2="179.30" stroke="#333" stroke-width="0.95"/>
<line x1="484.10" y1="181.90" x2="488.65" y2="181.90" stroke="#333" stroke-width="1.0"/>
<line x1="486.38" y1="179.85" x2="486.38" y2="183.95" stroke="#333" stroke-width="1.0"/>
<line x1="493.00" y1="182.10" x2="497.00" y2="182.10" stroke="#333" stroke-width="1.0"/>
<line x1="497.90" y1="184.40" x2="499.90" y2="179.30" stroke="#333" stroke-width="0.95"/>
<line x1="500.70" y1="182.10" x2="505.00" y2="182.10" stroke="#333" stroke-width="1.0"/>
<line x1="476.10" y1="189.50" x2="504.80" y2="189.50" stroke="#2e2e2e" stroke-width="1.1"/>
<text x="490.85" y="200.00" font-size="8" text-anchor="middle" textLength="34.2" lengthAdjust="spacingAndGlyphs" fill="#2a2a2a">0.5pM TF</text>
<text x="7.60" y="227.80" font-size="12.2" font-weight="bold" fill="#111">D</text>
<text x="130.00" y="230.90" font-size="8.7" fill="#2a2a2a">WB</text>
<line x1="41.90" y1="236.60" x2="41.90" y2="379.80" stroke="#2e2e2e" stroke-width="1.45"/>
<line x1="38.90" y1="379.30" x2="41.90" y2="379.30" stroke="#2e2e2e" stroke-width="1.45"/>
<text x="35.30" y="382.20" font-size="8.3" text-anchor="end" fill="#2a2a2a">0</text>
<line x1="38.90" y1="355.92" x2="41.90" y2="355.92" stroke="#2e2e2e" stroke-width="1.45"/>
<text x="35.30" y="358.82" font-size="8.3" text-anchor="end" fill="#2a2a2a">10</text>
<line x1="38.90" y1="332.53" x2="41.90" y2="332.53" stroke="#2e2e2e" stroke-width="1.45"/>
<text x="35.30" y="335.43" font-size="8.3" text-anchor="end" fill="#2a2a2a">20</text>
<line x1="38.90" y1="309.15" x2="41.90" y2="309.15" stroke="#2e2e2e" stroke-width="1.45"/>
<text x="35.30" y="312.05" font-size="8.3" text-anchor="end" fill="#2a2a2a">30</text>
<line x1="38.90" y1="285.77" x2="41.90" y2="285.77" stroke="#2e2e2e" stroke-width="1.45"/>
<text x="35.30" y="288.67" font-size="8.3" text-anchor="end" fill="#2a2a2a">40</text>
<line x1="38.90" y1="262.38" x2="41.90" y2="262.38" stroke="#2e2e2e" stroke-width="1.45"/>
<text x="35.30" y="265.28" font-size="8.3" text-anchor="end" fill="#2a2a2a">50</text>
<line x1="38.90" y1="239.00" x2="41.90" y2="239.00" stroke="#2e2e2e" stroke-width="1.45"/>
<text x="35.30" y="241.90" font-size="8.3" text-anchor="end" fill="#2a2a2a">60</text>
<line x1="41.40" y1="379.30" x2="231.20" y2="379.30" stroke="#2e2e2e" stroke-width="1.45"/>
<line x1="41.90" y1="379.30" x2="41.90" y2="381.90" stroke="#2e2e2e" stroke-width="1.45"/>
<text x="41.90" y="393.10" font-size="8.3" text-anchor="middle" fill="#2a2a2a">0</text>
<line x1="68.61" y1="379.30" x2="68.61" y2="381.90" stroke="#2e2e2e" stroke-width="1.45"/>
<text x="68.61" y="393.10" font-size="8.3" text-anchor="middle" fill="#2a2a2a">10</text>
<line x1="95.33" y1="379.30" x2="95.33" y2="381.90" stroke="#2e2e2e" stroke-width="1.45"/>
<text x="95.33" y="393.10" font-size="8.3" text-anchor="middle" fill="#2a2a2a">20</text>
<line x1="122.04" y1="379.30" x2="122.04" y2="381.90" stroke="#2e2e2e" stroke-width="1.45"/>
<text x="122.04" y="393.10" font-size="8.3" text-anchor="middle" fill="#2a2a2a">30</text>
<line x1="148.76" y1="379.30" x2="148.76" y2="381.90" stroke="#2e2e2e" stroke-width="1.45"/>
<text x="148.76" y="393.10" font-size="8.3" text-anchor="middle" fill="#2a2a2a">40</text>
<line x1="175.47" y1="379.30" x2="175.47" y2="381.90" stroke="#2e2e2e" stroke-width="1.45"/>
<text x="175.47" y="393.10" font-size="8.3" text-anchor="middle" fill="#2a2a2a">50</text>
<line x1="202.19" y1="379.30" x2="202.19" y2="381.90" stroke="#2e2e2e" stroke-width="1.45"/>
<text x="202.19" y="393.10" font-size="8.3" text-anchor="middle" fill="#2a2a2a">60</text>
<line x1="228.90" y1="379.30" x2="228.90" y2="381.90" stroke="#2e2e2e" stroke-width="1.45"/>
<text x="228.90" y="393.10" font-size="8.3" text-anchor="middle" fill="#2a2a2a">70</text>
<text x="136.80" y="406.20" font-size="8.8" text-anchor="middle" textLength="35.6" lengthAdjust="spacingAndGlyphs" fill="#2a2a2a">Time (mins)</text>
<text class="t" transform="translate(18.60,306.00) rotate(-90)" font-size="8.1" text-anchor="middle" textLength="47.5" lengthAdjust="spacingAndGlyphs" fill="#2a2a2a" x="0" y="0">Thrombin (nM)</text>
<polyline points="124.20,262.00 138.50,262.00" fill="none" stroke="#41a543" stroke-width="1.5" stroke-linejoin="round"/>
<text x="145.40" y="266.50" font-size="7.5" font-style="italic" textLength="18.6" lengthAdjust="spacingAndGlyphs" fill="#2a2a2a">Klkb1</text>
<text x="164.60" y="263.30" font-size="5.6" textLength="10.0" lengthAdjust="spacingAndGlyphs" fill="#2a2a2a">+/+</text>
<text x="176.60" y="266.50" font-size="7.5" textLength="37.3" lengthAdjust="spacingAndGlyphs" fill="#2a2a2a">0.05pM TF</text>
<polyline points="124.20,271.30 138.50,271.30" fill="none" stroke="#4aab4a" stroke-width="1.5" stroke-linejoin="round" stroke-dasharray="4.6,1.6"/>
<text x="145.40" y="275.70" font-size="7.5" font-style="italic" textLength="18.6" lengthAdjust="spacingAndGlyphs" fill="#2a2a2a">Klkb1</text>
<text x="164.60" y="272.50" font-size="5.6" textLength="10.0" lengthAdjust="spacingAndGlyphs" fill="#2a2a2a">−/−</text>
<text x="176.60" y="275.70" font-size="7.5" textLength="37.1" lengthAdjust="spacingAndGlyphs" fill="#2a2a2a">0.05pM TF</text>
<polyline points="124.20,287.10 138.50,287.10" fill="none" stroke="#175e46" stroke-width="1.5" stroke-linejoin="round"/>
<text x="145.40" y="291.00" font-size="7.5" font-style="italic" textLength="18.6" lengthAdjust="spacingAndGlyphs" fill="#2a2a2a">Klkb1</text>
<text x="164.60" y="287.80" font-size="5.6" textLength="10.0" lengthAdjust="spacingAndGlyphs" fill="#2a2a2a">+/+</text>
<text x="176.60" y="291.00" font-size="7.5" textLength="33.0" lengthAdjust="spacingAndGlyphs" fill="#2a2a2a">0.5pM TF</text>
<polyline points="124.20,297.80 138.50,297.80" fill="none" stroke="#123d30" stroke-width="1.5" stroke-linejoin="round" stroke-dasharray="4.6,1.6"/>
<text x="145.40" y="300.60" font-size="7.5" font-style="italic" textLength="18.6" lengthAdjust="spacingAndGlyphs" fill="#2a2a2a">Klkb1</text>
<text x="164.60" y="297.40" font-size="5.6" textLength="10.0" lengthAdjust="spacingAndGlyphs" fill="#2a2a2a">−/−</text>
<text x="176.60" y="300.60" font-size="7.5" textLength="32.8" lengthAdjust="spacingAndGlyphs" fill="#2a2a2a">0.5pM TF</text>
<text x="249.30" y="227.80" font-size="12.2" font-weight="bold" fill="#111">E</text>
<line x1="284.40" y1="237.90" x2="284.40" y2="379.40" stroke="#2e2e2e" stroke-width="1.45"/>
<line x1="281.40" y1="378.90" x2="284.40" y2="378.90" stroke="#2e2e2e" stroke-width="1.45"/>
<text x="277.80" y="381.80" font-size="8.3" text-anchor="end" fill="#2a2a2a">0</text>
<line x1="281.40" y1="344.25" x2="284.40" y2="344.25" stroke="#2e2e2e" stroke-width="1.45"/>
<text x="277.80" y="347.15" font-size="8.3" text-anchor="end" fill="#2a2a2a">5</text>
<line x1="281.40" y1="309.60" x2="284.40" y2="309.60" stroke="#2e2e2e" stroke-width="1.45"/>
<text x="277.80" y="312.50" font-size="8.3" text-anchor="end" fill="#2a2a2a">10</text>
<line x1="281.40" y1="274.95" x2="284.40" y2="274.95" stroke="#2e2e2e" stroke-width="1.45"/>
<text x="277.80" y="277.85" font-size="8.3" text-anchor="end" fill="#2a2a2a">15</text>
<line x1="281.40" y1="240.30" x2="284.40" y2="240.30" stroke="#2e2e2e" stroke-width="1.45"/>
<text x="277.80" y="243.20" font-size="8.3" text-anchor="end" fill="#2a2a2a">20</text>
<line x1="282.00" y1="379.20" x2="373.40" y2="379.20" stroke="#2e2e2e" stroke-width="1.45"/>
<text class="t" transform="translate(266.30,308.40) rotate(-90)" font-size="8.1" text-anchor="middle" textLength="47" lengthAdjust="spacingAndGlyphs" fill="#2a2a2a" x="0" y="0">Lag time (mins)</text>
<rect x="291.00" y="310.50" width="10.60" height="68.70" fill="#acd79c"/>
<rect x="308.20" y="308.00" width="10.60" height="71.20" fill="#acd79c"/>
<rect x="337.30" y="361.90" width="10.60" height="17.30" fill="#8eab9c"/>
<rect x="354.80" y="361.20" width="10.60" height="18.00" fill="#8eab9c"/>
<line x1="296.30" y1="285.60" x2="296.30" y2="313.00" stroke="#222" stroke-width="1.0"/>
<line x1="293.30" y1="285.60" x2="299.30" y2="285.60" stroke="#222" stroke-width="1.0"/>
<line x1="293.30" y1="313.00" x2="299.30" y2="313.00" stroke="#222" stroke-width="1.0"/>
<circle cx="296.10" cy="279.00" r="1.90" fill="#33a03c" stroke="#218a2c" stroke-width="0.8"/>
<circle cx="296.10" cy="285.10" r="1.90" fill="#33a03c" stroke="#218a2c" stroke-width="0.8"/>
<circle cx="296.10" cy="291.10" r="1.90" fill="#33a03c" stroke="#218a2c" stroke-width="0.8"/>
<circle cx="292.10" cy="309.50" r="1.90" fill="#33a03c" stroke="#218a2c" stroke-width="0.8"/>
<circle cx="300.20" cy="309.50" r="1.90" fill="#33a03c" stroke="#218a2c" stroke-width="0.8"/>
<circle cx="296.20" cy="312.80" r="1.90" fill="#33a03c" stroke="#218a2c" stroke-width="0.8"/>
<circle cx="292.00" cy="316.70" r="1.90" fill="#33a03c" stroke="#218a2c" stroke-width="0.8"/>
<circle cx="300.00" cy="316.70" r="1.90" fill="#33a03c" stroke="#218a2c" stroke-width="0.8"/>
<line x1="313.50" y1="298.30" x2="313.50" y2="316.10" stroke="#222" stroke-width="1.0"/>
<line x1="310.80" y1="298.30" x2="316.20" y2="298.30" stroke="#222" stroke-width="1.0"/>
<line x1="310.80" y1="316.10" x2="316.20" y2="316.10" stroke="#222" stroke-width="1.0"/>
<circle cx="313.60" cy="288.30" r="1.60" fill="#eef7ea" stroke="#3f9f45" stroke-width="0.9"/>
<circle cx="317.90" cy="297.20" r="1.60" fill="#eef7ea" stroke="#3f9f45" stroke-width="0.9"/>
<circle cx="309.60" cy="300.90" r="1.60" fill="#eef7ea" stroke="#3f9f45" stroke-width="0.9"/>
<circle cx="309.60" cy="305.00" r="1.60" fill="#eef7ea" stroke="#3f9f45" stroke-width="0.9"/>
<circle cx="317.90" cy="308.10" r="1.60" fill="#eef7ea" stroke="#3f9f45" stroke-width="0.9"/>
<circle cx="309.60" cy="310.70" r="1.60" fill="#eef7ea" stroke="#3f9f45" stroke-width="0.9"/>
<circle cx="309.60" cy="318.60" r="1.60" fill="#eef7ea" stroke="#3f9f45" stroke-width="0.9"/>
<circle cx="317.90" cy="317.60" r="1.60" fill="#eef7ea" stroke="#3f9f45" stroke-width="0.9"/>
<circle cx="338.80" cy="357.20" r="1.90" fill="#17785a" stroke="#0c4a36" stroke-width="0.8"/>
<circle cx="341.60" cy="355.30" r="1.90" fill="#17785a" stroke="#0c4a36" stroke-width="0.8"/>
<circle cx="344.60" cy="356.20" r="1.90" fill="#17785a" stroke="#0c4a36" stroke-width="0.8"/>
<circle cx="339.40" cy="360.60" r="1.90" fill="#17785a" stroke="#0c4a36" stroke-width="0.8"/>
<circle cx="342.40" cy="358.80" r="1.90" fill="#17785a" stroke="#0c4a36" stroke-width="0.8"/>
<circle cx="345.60" cy="360.20" r="1.90" fill="#17785a" stroke="#0c4a36" stroke-width="0.8"/>
<circle cx="341.00" cy="362.20" r="1.90" fill="#17785a" stroke="#0c4a36" stroke-width="0.8"/>
<circle cx="356.60" cy="356.00" r="1.60" fill="#e6f0ea" stroke="#145c45" stroke-width="0.9"/>
<circle cx="360.00" cy="355.20" r="1.60" fill="#e6f0ea" stroke="#145c45" stroke-width="0.9"/>
<circle cx="363.40" cy="355.60" r="1.60" fill="#e6f0ea" stroke="#145c45" stroke-width="0.9"/>
<circle cx="356.60" cy="360.00" r="1.60" fill="#e6f0ea" stroke="#145c45" stroke-width="0.9"/>
<circle cx="360.00" cy="359.60" r="1.60" fill="#e6f0ea" stroke="#145c45" stroke-width="0.9"/>
<circle cx="363.40" cy="360.00" r="1.60" fill="#e6f0ea" stroke="#145c45" stroke-width="0.9"/>
<polyline points="296.50,263.70 296.50,257.50 313.50,257.50 313.50,263.70" fill="none" stroke="#2e2e2e" stroke-width="1.1"/>
<text x="304.85" y="252.60" font-size="8.1" text-anchor="middle" textLength="8.100000000000033" lengthAdjust="spacingAndGlyphs" fill="#2a2a2a">ns</text>
<polyline points="342.50,344.50 342.50,338.50 360.50,338.50 360.50,344.50" fill="none" stroke="#2e2e2e" stroke-width="1.1"/>
<text x="350.95" y="333.80" font-size="8.1" text-anchor="middle" textLength="7.899999999999989" lengthAdjust="spacingAndGlyphs" fill="#2a2a2a">ns</text>
<line x1="296.30" y1="379.20" x2="296.30" y2="382.20" stroke="#2e2e2e" stroke-width="1.45"/>
<line x1="313.50" y1="379.20" x2="313.50" y2="382.20" stroke="#2e2e2e" stroke-width="1.45"/>
<line x1="342.60" y1="379.20" x2="342.60" y2="382.20" stroke="#2e2e2e" stroke-width="1.45"/>
<line x1="360.10" y1="379.20" x2="360.10" y2="382.20" stroke="#2e2e2e" stroke-width="1.45"/>
<text x="259.50" y="393.90" font-size="7.8" font-style="italic" textLength="21.0" lengthAdjust="spacingAndGlyphs" fill="#2a2a2a">Klkb1</text>
<line x1="289.85" y1="391.60" x2="294.15" y2="391.60" stroke="#333" stroke-width="1.0"/>
<line x1="292.00" y1="389.55" x2="292.00" y2="393.65" stroke="#333" stroke-width="1.0"/>
<line x1="294.80" y1="394.10" x2="296.90" y2="389.00" stroke="#333" stroke-width="0.95"/>
<line x1="298.20" y1="391.60" x2="302.75" y2="391.60" stroke="#333" stroke-width="1.0"/>
<line x1="300.48" y1="389.55" x2="300.48" y2="393.65" stroke="#333" stroke-width="1.0"/>
<line x1="307.00" y1="391.80" x2="311.00" y2="391.80" stroke="#333" stroke-width="1.0"/>
<line x1="311.90" y1="394.10" x2="313.90" y2="389.00" stroke="#333" stroke-width="0.95"/>
<line x1="314.70" y1="391.80" x2="319.00" y2="391.80" stroke="#333" stroke-width="1.0"/>
<line x1="290.20" y1="398.50" x2="318.80" y2="398.50" stroke="#2e2e2e" stroke-width="1.1"/>
<text x="304.90" y="409.00" font-size="8" text-anchor="middle" textLength="39.8" lengthAdjust="spacingAndGlyphs" fill="#2a2a2a">0.05pM TF</text>
<line x1="336.15" y1="391.60" x2="340.45" y2="391.60" stroke="#333" stroke-width="1.0"/>
<line x1="338.30" y1="389.55" x2="338.30" y2="393.65" stroke="#333" stroke-width="1.0"/>
<line x1="341.10" y1="394.10" x2="343.20" y2="389.00" stroke="#333" stroke-width="0.95"/>
<line x1="344.50" y1="391.60" x2="349.05" y2="391.60" stroke="#333" stroke-width="1.0"/>
<line x1="346.77" y1="389.55" x2="346.77" y2="393.65" stroke="#333" stroke-width="1.0"/>
<line x1="353.60" y1="391.80" x2="357.60" y2="391.80" stroke="#333" stroke-width="1.0"/>
<line x1="358.50" y1="394.10" x2="360.50" y2="389.00" stroke="#333" stroke-width="0.95"/>
<line x1="361.30" y1="391.80" x2="365.60" y2="391.80" stroke="#333" stroke-width="1.0"/>
<line x1="336.50" y1="398.50" x2="365.40" y2="398.50" stroke="#2e2e2e" stroke-width="1.1"/>
<text x="351.35" y="409.00" font-size="8" text-anchor="middle" textLength="35.2" lengthAdjust="spacingAndGlyphs" fill="#2a2a2a">0.5pM TF</text>
<text x="389.70" y="227.90" font-size="12.2" font-weight="bold" fill="#111">F</text>
<line x1="423.70" y1="235.70" x2="423.70" y2="379.40" stroke="#2e2e2e" stroke-width="1.45"/>
<line x1="420.70" y1="378.90" x2="423.70" y2="378.90" stroke="#2e2e2e" stroke-width="1.45"/>
<text x="417.20" y="381.80" font-size="8.3" text-anchor="end" fill="#2a2a2a">0</text>
<line x1="420.70" y1="343.80" x2="423.70" y2="343.80" stroke="#2e2e2e" stroke-width="1.45"/>
<text x="417.20" y="346.70" font-size="8.3" text-anchor="end" fill="#2a2a2a">20</text>
<line x1="420.70" y1="308.70" x2="423.70" y2="308.70" stroke="#2e2e2e" stroke-width="1.45"/>
<text x="417.20" y="311.60" font-size="8.3" text-anchor="end" fill="#2a2a2a">40</text>
<line x1="420.70" y1="273.60" x2="423.70" y2="273.60" stroke="#2e2e2e" stroke-width="1.45"/>
<text x="417.20" y="276.50" font-size="8.3" text-anchor="end" fill="#2a2a2a">60</text>
<line x1="420.70" y1="238.50" x2="423.70" y2="238.50" stroke="#2e2e2e" stroke-width="1.45"/>
<text x="417.20" y="241.40" font-size="8.3" text-anchor="end" fill="#2a2a2a">80</text>
<line x1="421.30" y1="379.30" x2="513.00" y2="379.30" stroke="#2e2e2e" stroke-width="1.45"/>
<text class="t" transform="translate(400.60,307.90) rotate(-90)" font-size="8.1" text-anchor="middle" textLength="53" lengthAdjust="spacingAndGlyphs" fill="#2a2a2a" x="0" y="0">Peak height (nM)</text>
<rect x="430.30" y="335.20" width="10.60" height="44.10" fill="#acd79c"/>
<rect x="448.00" y="331.10" width="10.60" height="48.20" fill="#acd79c"/>
<rect x="477.30" y="293.50" width="10.60" height="85.80" fill="#8eab9c"/>
<rect x="495.00" y="274.60" width="10.60" height="104.70" fill="#8eab9c"/>
<line x1="435.60" y1="310.00" x2="435.60" y2="350.00" stroke="#222" stroke-width="1.0"/>
<line x1="435.55" y1="310.00" x2="435.65" y2="310.00" stroke="#222" stroke-width="1.0"/>
<line x1="435.55" y1="350.00" x2="435.65" y2="350.00" stroke="#222" stroke-width="1.0"/>
<circle cx="435.60" cy="309.80" r="1.90" fill="#33a03c" stroke="#218a2c" stroke-width="0.8"/>
<circle cx="437.80" cy="314.50" r="1.90" fill="#33a03c" stroke="#218a2c" stroke-width="0.8"/>
<circle cx="433.60" cy="316.80" r="1.90" fill="#33a03c" stroke="#218a2c" stroke-width="0.8"/>
<circle cx="435.60" cy="321.80" r="1.90" fill="#33a03c" stroke="#218a2c" stroke-width="0.8"/>
<circle cx="431.50" cy="346.40" r="1.90" fill="#33a03c" stroke="#218a2c" stroke-width="0.8"/>
<circle cx="439.80" cy="347.60" r="1.90" fill="#33a03c" stroke="#218a2c" stroke-width="0.8"/>
<circle cx="435.10" cy="349.50" r="1.90" fill="#33a03c" stroke="#218a2c" stroke-width="0.8"/>
<circle cx="435.60" cy="356.50" r="1.90" fill="#33a03c" stroke="#218a2c" stroke-width="0.8"/>
<line x1="453.30" y1="308.70" x2="453.30" y2="331.60" stroke="#222" stroke-width="1.0"/>
<line x1="450.10" y1="308.70" x2="456.50" y2="308.70" stroke="#222" stroke-width="1.0"/>
<line x1="450.10" y1="331.60" x2="456.50" y2="331.60" stroke="#222" stroke-width="1.0"/>
<circle cx="449.10" cy="303.60" r="1.60" fill="#eef7ea" stroke="#3f9f45" stroke-width="0.9"/>
<circle cx="457.40" cy="303.10" r="1.60" fill="#eef7ea" stroke="#3f9f45" stroke-width="0.9"/>
<circle cx="457.40" cy="322.20" r="1.60" fill="#eef7ea" stroke="#3f9f45" stroke-width="0.9"/>
<circle cx="449.10" cy="324.60" r="1.60" fill="#eef7ea" stroke="#3f9f45" stroke-width="0.9"/>
<circle cx="449.10" cy="328.50" r="1.60" fill="#eef7ea" stroke="#3f9f45" stroke-width="0.9"/>
<circle cx="457.40" cy="327.70" r="1.60" fill="#eef7ea" stroke="#3f9f45" stroke-width="0.9"/>
<circle cx="453.00" cy="329.20" r="1.60" fill="#eef7ea" stroke="#3f9f45" stroke-width="0.9"/>
<circle cx="457.40" cy="332.40" r="1.60" fill="#eef7ea" stroke="#3f9f45" stroke-width="0.9"/>
<circle cx="453.00" cy="336.70" r="1.60" fill="#eef7ea" stroke="#3f9f45" stroke-width="0.9"/>
<line x1="482.60" y1="273.90" x2="482.60" y2="294.50" stroke="#222" stroke-width="1.0"/>
<line x1="479.40" y1="273.90" x2="485.80" y2="273.90" stroke="#222" stroke-width="1.0"/>
<line x1="479.40" y1="294.50" x2="485.80" y2="294.50" stroke="#222" stroke-width="1.0"/>
<circle cx="482.80" cy="269.10" r="1.90" fill="#17785a" stroke="#0c4a36" stroke-width="0.8"/>
<circle cx="482.80" cy="274.80" r="1.90" fill="#17785a" stroke="#0c4a36" stroke-width="0.8"/>
<circle cx="478.60" cy="294.50" r="1.90" fill="#17785a" stroke="#0c4a36" stroke-width="0.8"/>
<circle cx="481.20" cy="295.00" r="1.90" fill="#17785a" stroke="#0c4a36" stroke-width="0.8"/>
<circle cx="484.00" cy="295.00" r="1.90" fill="#17785a" stroke="#0c4a36" stroke-width="0.8"/>
<circle cx="486.80" cy="294.50" r="1.90" fill="#17785a" stroke="#0c4a36" stroke-width="0.8"/>
<circle cx="482.80" cy="300.70" r="1.90" fill="#17785a" stroke="#0c4a36" stroke-width="0.8"/>
<line x1="500.30" y1="260.60" x2="500.30" y2="292.00" stroke="#222" stroke-width="1.0"/>
<line x1="496.00" y1="260.60" x2="504.60" y2="260.60" stroke="#222" stroke-width="1.0"/>
<line x1="496.00" y1="292.00" x2="504.60" y2="292.00" stroke="#222" stroke-width="1.0"/>
<circle cx="500.40" cy="253.10" r="1.60" fill="#e6f0ea" stroke="#145c45" stroke-width="0.9"/>
<circle cx="495.70" cy="262.90" r="1.60" fill="#e6f0ea" stroke="#145c45" stroke-width="0.9"/>
<circle cx="503.90" cy="262.90" r="1.60" fill="#e6f0ea" stroke="#145c45" stroke-width="0.9"/>
<circle cx="495.70" cy="284.70" r="1.60" fill="#e6f0ea" stroke="#145c45" stroke-width="0.9"/>
<circle cx="504.20" cy="287.30" r="1.60" fill="#e6f0ea" stroke="#145c45" stroke-width="0.9"/>
<circle cx="499.90" cy="305.40" r="1.60" fill="#e6f0ea" stroke="#145c45" stroke-width="0.9"/>
<polyline points="435.50,293.40 435.50,287.50 453.50,287.50 453.50,293.40" fill="none" stroke="#2e2e2e" stroke-width="1.1"/>
<text x="444.85" y="282.30" font-size="8.1" text-anchor="middle" textLength="8.299999999999965" lengthAdjust="spacingAndGlyphs" fill="#2a2a2a">ns</text>
<polyline points="482.50,246.30 482.50,240.50 500.50,240.50 500.50,246.30" fill="none" stroke="#2e2e2e" stroke-width="1.1"/>
<text x="491.45" y="235.70" font-size="8.1" text-anchor="middle" textLength="8.300000000000022" lengthAdjust="spacingAndGlyphs" fill="#2a2a2a">ns</text>
<line x1="435.60" y1="379.30" x2="435.60" y2="382.30" stroke="#2e2e2e" stroke-width="1.45"/>
<line x1="453.30" y1="379.30" x2="453.30" y2="382.30" stroke="#2e2e2e" stroke-width="1.45"/>
<line x1="482.60" y1="379.30" x2="482.60" y2="382.30" stroke="#2e2e2e" stroke-width="1.45"/>
<line x1="500.30" y1="379.30" x2="500.30" y2="382.30" stroke="#2e2e2e" stroke-width="1.45"/>
<text x="401.00" y="394.30" font-size="7.8" font-style="italic" textLength="21.0" lengthAdjust="spacingAndGlyphs" fill="#2a2a2a">Klkb1</text>
<line x1="429.15" y1="391.20" x2="433.45" y2="391.20" stroke="#333" stroke-width="1.0"/>
<line x1="431.30" y1="389.15" x2="431.30" y2="393.25" stroke="#333" stroke-width="1.0"/>
<line x1="434.10" y1="393.70" x2="436.20" y2="388.60" stroke="#333" stroke-width="0.95"/>
<line x1="437.50" y1="391.20" x2="442.05" y2="391.20" stroke="#333" stroke-width="1.0"/>
<line x1="439.77" y1="389.15" x2="439.77" y2="393.25" stroke="#333" stroke-width="1.0"/>
<line x1="446.80" y1="391.40" x2="450.80" y2="391.40" stroke="#333" stroke-width="1.0"/>
<line x1="451.70" y1="393.70" x2="453.70" y2="388.60" stroke="#333" stroke-width="0.95"/>
<line x1="454.50" y1="391.40" x2="458.80" y2="391.40" stroke="#333" stroke-width="1.0"/>
<line x1="429.50" y1="398.50" x2="458.60" y2="398.50" stroke="#2e2e2e" stroke-width="1.1"/>
<text x="444.45" y="408.20" font-size="8" text-anchor="middle" textLength="38.9" lengthAdjust="spacingAndGlyphs" fill="#2a2a2a">0.05pM TF</text>
<line x1="476.15" y1="391.20" x2="480.45" y2="391.20" stroke="#333" stroke-width="1.0"/>
<line x1="478.30" y1="389.15" x2="478.30" y2="393.25" stroke="#333" stroke-width="1.0"/>
<line x1="481.10" y1="393.70" x2="483.20" y2="388.60" stroke="#333" stroke-width="0.95"/>
<line x1="484.50" y1="391.20" x2="489.05" y2="391.20" stroke="#333" stroke-width="1.0"/>
<line x1="486.77" y1="389.15" x2="486.77" y2="393.25" stroke="#333" stroke-width="1.0"/>
<line x1="493.80" y1="391.40" x2="497.80" y2="391.40" stroke="#333" stroke-width="1.0"/>
<line x1="498.70" y1="393.70" x2="500.70" y2="388.60" stroke="#333" stroke-width="0.95"/>
<line x1="501.50" y1="391.40" x2="505.80" y2="391.40" stroke="#333" stroke-width="1.0"/>
<line x1="476.50" y1="398.50" x2="505.60" y2="398.50" stroke="#2e2e2e" stroke-width="1.1"/>
<text x="491.45" y="408.20" font-size="8" text-anchor="middle" textLength="34.5" lengthAdjust="spacingAndGlyphs" fill="#2a2a2a">0.5pM TF</text>
<rect x="0.5" y="0.5" width="519" height="417" fill="none" stroke="#555" stroke-width="1"/>
</svg>
</body></html>
